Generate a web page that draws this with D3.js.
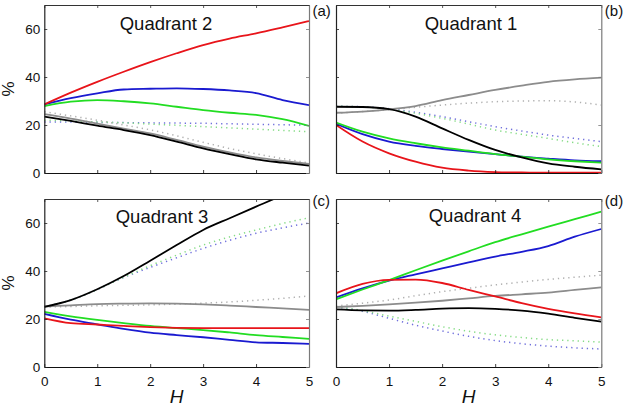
<!DOCTYPE html>
<html><head><meta charset="utf-8">
<script src="https://cdn.jsdelivr.net/npm/d3@7"></script>
<style>body{margin:0;background:#fff}svg{display:block}</style>
</head><body>
<svg id="chart" width="627" height="406"></svg>
<script>
const H = [0, 0.5, 1, 1.5, 2, 2.5, 3, 3.5, 4, 4.5, 5];
const xTicks = [0, 1, 2, 3, 4, 5];
const yTicks = [0, 20, 40, 60];

// Quadrant 2 (a)
const q2Red   = [28.6, 33.5, 38.0, 42.2, 46.2, 49.9, 53.3, 56.0, 58.2, 60.7, 63.3];
const q2Blue  = [28.6, 31.2, 33.2, 34.8, 35.1, 35.3, 35.0, 34.4, 33.3, 30.4, 28.3];
const q2Green = [27.9, 29.7, 30.4, 29.9, 29.0, 27.6, 26.2, 25.1, 24.2, 22.4, 19.6];
const q2Gray  = [24.5, 22.7, 20.6, 18.5, 16.5, 13.8, 11.0, 8.6, 6.5, 5.0, 3.8];
const q2Black = [23.5, 21.7, 19.7, 17.9, 15.8, 13.1, 10.3, 7.9, 5.7, 4.3, 3.1];
const q2BlueDot  = [21.2, 21.2, 21.1, 21.0, 20.9, 20.8, 20.7, 20.5, 20.3, 20.1, 19.9];
const q2GreenDot = [22.0, 21.7, 21.3, 20.9, 20.4, 19.9, 19.3, 18.8, 18.3, 17.7, 17.2];
const q2GrayDot  = [25.5, 23.8, 22.0, 20.0, 18.0, 15.5, 12.8, 10.2, 8.0, 6.0, 4.2];

// Quadrant 1 (b)
const q1Red   = [20.0, 13.1, 8.2, 4.7, 2.2, 1.0, 0.4, 0.2, 0.1, 0.1, 0.1];
const q1Blue  = [20.5, 16.2, 13.1, 11.3, 10.0, 8.9, 7.9, 6.8, 6.0, 5.3, 4.9];
const q1Green = [21.0, 17.2, 14.4, 12.4, 10.7, 9.3, 7.9, 6.8, 5.7, 4.9, 4.3];
const q1Gray  = [25.1, 25.6, 26.5, 27.9, 30.4, 32.5, 34.6, 36.4, 38.0, 39.0, 39.7];
const q1Black = [27.6, 27.5, 26.6, 23.5, 18.6, 13.8, 9.6, 6.5, 4.0, 2.6, 1.5];
const q1BlueDot  = [27.8, 27.6, 26.8, 25.3, 23.5, 21.4, 19.3, 17.5, 15.8, 14.4, 13.1];
const q1GreenDot = [27.8, 27.5, 26.6, 24.9, 22.8, 20.4, 17.9, 16.1, 14.4, 12.6, 11.0];
const q1GrayDot  = [24.9, 25.6, 26.4, 27.4, 28.3, 29.1, 29.7, 30.0, 30.1, 29.6, 28.3];

// Quadrant 3 (c)
const q3Red   = [20.3, 18.3, 17.7, 17.1, 16.6, 16.3, 16.2, 16.2, 16.2, 16.2, 16.2];
const q3Blue  = [22.1, 19.7, 17.8, 15.9, 14.3, 13.3, 12.4, 11.3, 10.3, 10.0, 9.6];
const q3Green = [23.0, 21.1, 19.6, 18.3, 17.1, 16.2, 15.4, 14.4, 13.3, 12.5, 11.7];
const q3Gray  = [25.2, 25.7, 26.2, 26.4, 26.5, 26.4, 26.1, 25.6, 25.0, 24.4, 23.8];
const q3Black = [25.1, 27.9, 32.4, 37.9, 44.3, 50.8, 57.1, 62.0, 66.8, 71.5, 75.5];
const q3BlueDot  = [25.1, 27.9, 32.3, 37.3, 41.5, 45.5, 49.4, 52.8, 55.7, 58.0, 60.0];
const q3GreenDot = [25.1, 27.9, 32.3, 37.4, 42.2, 46.6, 50.8, 54.2, 57.1, 59.8, 62.2];
const q3GrayDot  = [25.0, 25.2, 25.5, 25.7, 25.9, 26.2, 26.6, 27.1, 27.8, 28.6, 29.6];

// Quadrant 4 (d)
const q4Red   = [30.7, 34.6, 36.3, 36.4, 35.0, 32.1, 29.4, 26.6, 24.2, 22.3, 20.7];
const q4Blue  = [29.0, 32.8, 36.0, 38.6, 41.1, 43.6, 46.0, 48.0, 50.4, 54.3, 57.5];
const q4Green = [28.2, 32.3, 36.2, 40.3, 44.3, 48.2, 52.0, 55.3, 58.5, 61.6, 64.7];
const q4Gray  = [25.0, 25.5, 26.1, 26.8, 27.6, 28.6, 29.6, 30.3, 31.0, 32.1, 33.2];
const q4Black = [24.0, 23.6, 23.5, 23.8, 24.3, 24.5, 24.2, 23.5, 22.2, 20.5, 18.9];
const q4BlueDot  = [25.1, 23.2, 20.3, 17.4, 15.0, 12.8, 11.0, 9.7, 8.7, 8.0, 7.5];
const q4GreenDot = [25.1, 23.5, 21.2, 19.0, 16.8, 14.9, 13.4, 12.3, 11.4, 10.9, 10.4];
const q4GrayDot  = [25.4, 26.6, 27.9, 29.7, 31.4, 32.8, 34.2, 35.4, 36.5, 37.4, 38.3];

const panels = [
  {title: "Quadrant 2", tag: "(a)", x0: 44.3, x1: 309, y0: 5, y1: 173, xl: false, yl: true, tx: 166, ty: 30,
   s: [q2Red, q2Blue, q2Green, q2Gray, q2Black, q2BlueDot, q2GreenDot, q2GrayDot]},
  {title: "Quadrant 1", tag: "(b)", x0: 336, x1: 601.3, y0: 5, y1: 173, xl: false, yl: false, tx: 471, ty: 30,
   s: [q1Red, q1Blue, q1Green, q1Gray, q1Black, q1BlueDot, q1GreenDot, q1GrayDot]},
  {title: "Quadrant 3", tag: "(c)", x0: 44.3, x1: 309, y0: 199, y1: 367, xl: true, yl: true, tx: 162, ty: 223,
   s: [q3Red, q3Blue, q3Green, q3Gray, q3Black, q3BlueDot, q3GreenDot, q3GrayDot]},
  {title: "Quadrant 4", tag: "(d)", x0: 336, x1: 601.3, y0: 199, y1: 367, xl: true, yl: false, tx: 475, ty: 222,
   s: [q4Red, q4Blue, q4Green, q4Gray, q4Black, q4BlueDot, q4GreenDot, q4GrayDot]}
];

// style per series index: red, blue, green, gray, black, blue dotted, green dotted, gray dotted
const styles = [
  {c: "#e8141a", w: 1.8, d: null},
  {c: "#1a1ad0", w: 1.8, d: null},
  {c: "#22dd22", w: 1.8, d: null},
  {c: "#8c8c8c", w: 1.8, d: null},
  {c: "#000000", w: 1.8, d: null},
  {c: "#7070dc", w: 1.5, d: "1.3,3.9"},
  {c: "#86dc86", w: 1.5, d: "1.3,3.9"},
  {c: "#b0b0b0", w: 1.5, d: "1.3,3.9"}
];
const drawOrder = [5, 6, 7, 3, 1, 2, 0, 4];

const svg = d3.select("#chart");
const font = "'Liberation Sans', Arial, Helvetica, sans-serif";

panels.forEach((p, i) => {
  const x = d3.scaleLinear().domain([0, 5]).range([p.x0, p.x1]);
  const y = d3.scaleLinear().domain([0, 70]).range([p.y1, p.y0]);
  const g = svg.append("g");
  const cid = "clip" + i;
  svg.append("clipPath").attr("id", cid).append("rect")
    .attr("x", p.x0).attr("y", p.y0).attr("width", p.x1 - p.x0).attr("height", p.y1 - p.y0);

  const lines = g.append("g").attr("clip-path", `url(#${cid})`);
  const line = d3.line().x((d, k) => x(H[k])).y(d => y(d)).curve(d3.curveMonotoneX);
  drawOrder.forEach(si => {
    const st = styles[si];
    lines.append("path").datum(p.s[si])
      .attr("d", line).attr("fill", "none")
      .attr("stroke", st.c).attr("stroke-width", st.w)
      .attr("stroke-dasharray", st.d)
      .attr("stroke-linecap", "butt")
      .attr("stroke-linejoin", "round");
  });

  // axes
  const bottom = d3.axisBottom(x).tickValues(xTicks).tickSizeInner(-3).tickSizeOuter(0).tickPadding(9)
    .tickFormat(p.xl ? d3.format("d") : () => "");
  const top = d3.axisTop(x).tickValues(xTicks).tickSizeInner(-3).tickSizeOuter(0).tickFormat(() => "");
  const left = d3.axisLeft(y).tickValues(yTicks).tickSizeInner(-3).tickSizeOuter(0).tickPadding(4)
    .tickFormat(p.yl ? d3.format("d") : () => "");
  const right = d3.axisRight(y).tickValues(yTicks).tickSizeInner(-3).tickSizeOuter(0).tickFormat(() => "");

  const styleAxis = (sel, col) => {
    sel.selectAll("path.domain").attr("stroke", col).attr("stroke-width", 1.2);
    sel.selectAll(".tick line").attr("stroke", col).attr("stroke-width", 0.8);
    sel.selectAll(".tick text").attr("fill", "#111").style("font-family", font).style("font-size", "13.5px");
  };
  styleAxis(g.append("g").attr("transform", `translate(0,${p.y1})`).call(bottom), "#111");
  styleAxis(g.append("g").attr("transform", `translate(0,${p.y0})`).call(top), "#333");
  styleAxis(g.append("g").attr("transform", `translate(${p.x0},0)`).call(left), "#222");
  styleAxis(g.append("g").attr("transform", `translate(${p.x1},0)`).call(right), "#7a7a7a");

  g.append("text").attr("x", p.tx).attr("y", p.ty).attr("text-anchor", "middle")
    .style("font-family", font).style("font-size", "18.5px").attr("fill", "#111").text(p.title);
  g.append("text").attr("x", p.x1 + 3.5).attr("y", p.y0 + 10.5 - (p.y0 > 100 ? 4 : 0))
    .style("font-family", font).style("font-size", "15px").attr("fill", "#111").text(p.tag);

  if (p.yl) {
    g.append("text").attr("transform", `translate(14,${(p.y0 + p.y1) / 2}) rotate(-90)`)
      .attr("text-anchor", "middle").style("font-family", font).style("font-size", "17px")
      .attr("fill", "#111").text("%");
  }
  if (p.xl) {
    g.append("text").attr("x", (p.x0 + p.x1) / 2).attr("y", 403).attr("text-anchor", "middle")
      .style("font-family", font).style("font-size", "19px").style("font-style", "italic")
      .attr("fill", "#111").text("H");
  }
});
</script>
</body></html>
